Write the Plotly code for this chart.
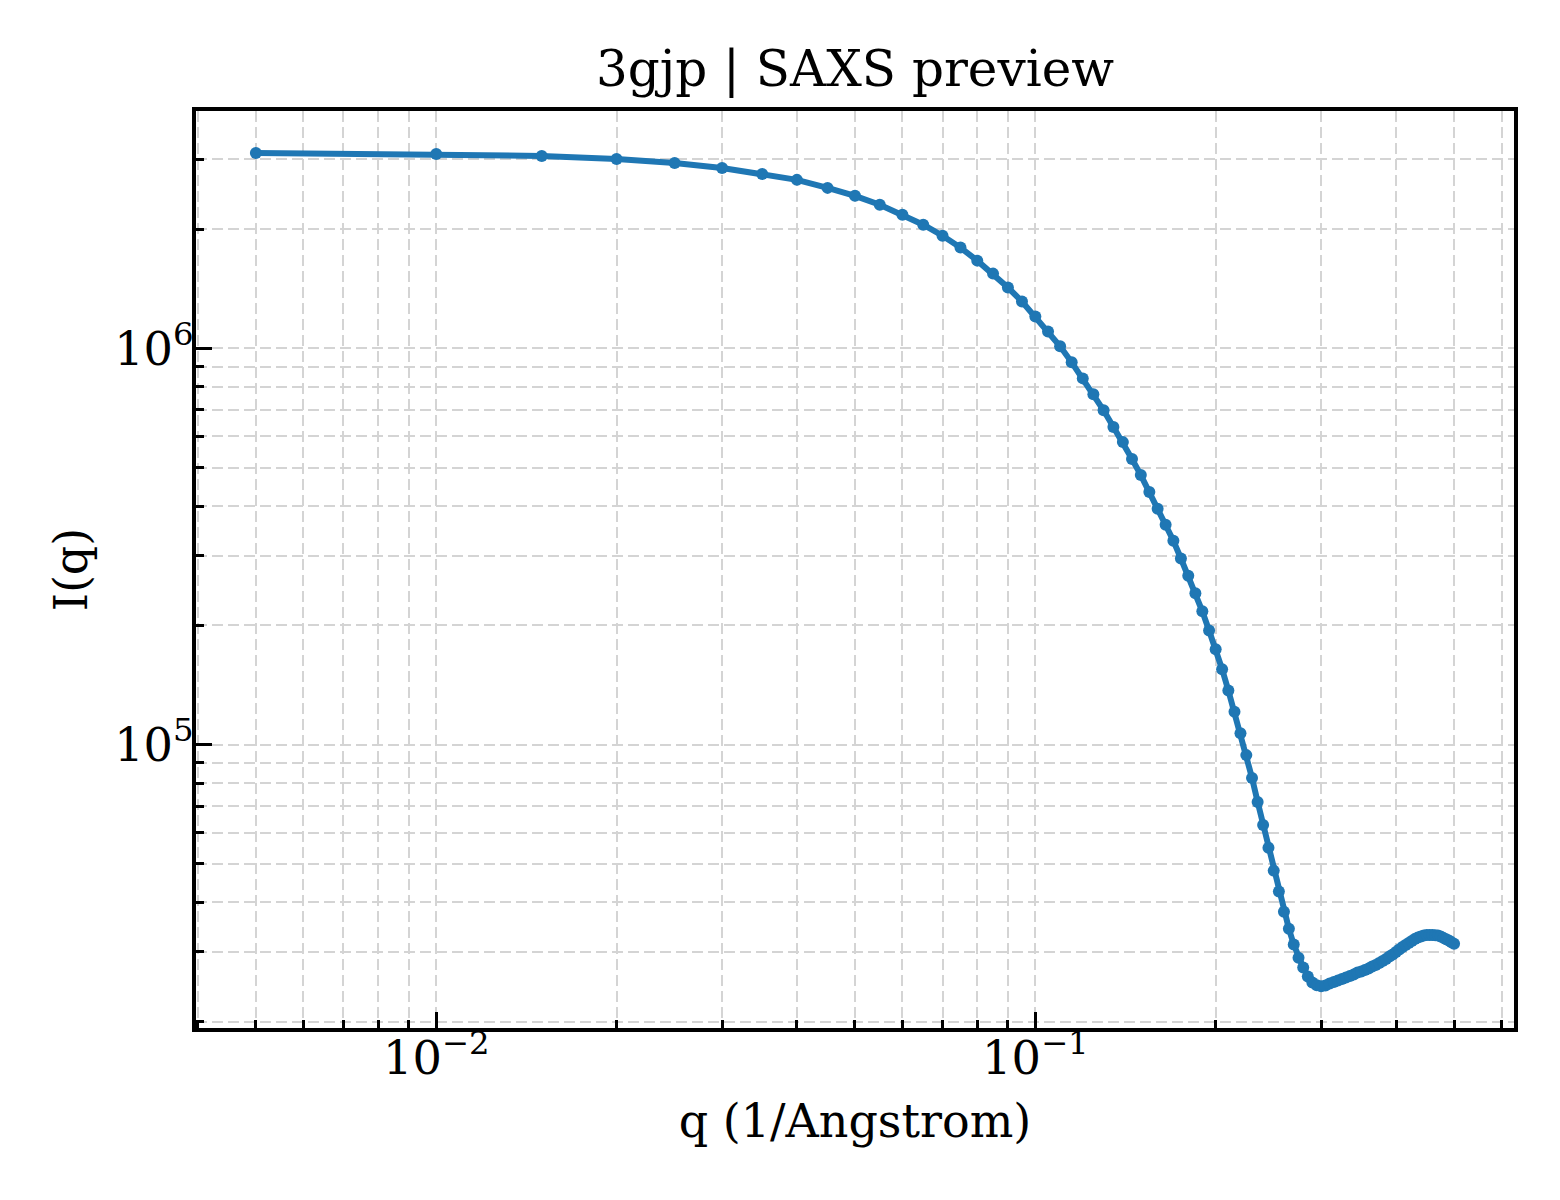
import plotly.graph_objects as go

# q (1/Angstrom) 값
q_values = [
    0.005, 0.010, 0.015, 0.020, 0.025, 0.030, 0.035, 0.040, 0.045, 0.050,
    0.055, 0.060, 0.065, 0.070, 0.075, 0.080, 0.085, 0.090, 0.095, 0.100,
    0.105, 0.110, 0.115, 0.120, 0.125, 0.130, 0.135, 0.140, 0.145, 0.150,
    0.155, 0.160, 0.165, 0.170, 0.175, 0.180, 0.185, 0.190, 0.195, 0.200,
    0.205, 0.210, 0.215, 0.220, 0.225, 0.230, 0.235, 0.240, 0.245, 0.250,
    0.255, 0.260, 0.265, 0.270, 0.275, 0.280, 0.285, 0.290, 0.295, 0.300,
    0.305, 0.310, 0.315, 0.320, 0.325, 0.330, 0.335, 0.340, 0.345, 0.350,
    0.355, 0.360, 0.365, 0.370, 0.375, 0.380, 0.385, 0.390, 0.395, 0.400,
    0.405, 0.410, 0.415, 0.420, 0.425, 0.430, 0.435, 0.440, 0.445, 0.450,
    0.455, 0.460, 0.465, 0.470, 0.475, 0.480, 0.485, 0.490, 0.495, 0.500,
]

# I(q) 값
intensity = [
    3.112e6, 3.095e6, 3.059e6, 3.006e6, 2.937e6, 2.853e6, 2.756e6, 2.662e6, 2.541e6, 2.426e6,
    2.303e6, 2.174e6, 2.051e6, 1.924e6, 1.796e6, 1.665e6, 1.544e6, 1.424e6, 1.313e6, 1.204e6,
    1.103e6, 1.012e6, 9.22e5, 8.40e5, 7.66e5, 6.98e5, 6.33e5, 5.80e5, 5.26e5, 4.79e5,
    4.34e5, 3.94e5, 3.59e5, 3.27e5, 2.95e5, 2.67e5, 2.41e5, 2.17e5, 1.94e5, 1.74e5,
    1.55e5, 1.37e5, 1.21e5, 1.069e5, 9.41e4, 8.24e4, 7.17e4, 6.27e4, 5.49e4, 4.81e4,
    4.26e4, 3.79e4, 3.43e4, 3.13e4, 2.90e4, 2.74e4, 2.60e4, 2.51e4, 2.47e4, 2.455e4,
    2.469e4, 2.497e4, 2.519e4, 2.541e4, 2.563e4, 2.586e4, 2.608e4, 2.631e4, 2.662e4, 2.677e4,
    2.701e4, 2.724e4, 2.756e4, 2.780e4, 2.813e4, 2.846e4, 2.879e4, 2.921e4, 2.955e4, 2.998e4,
    3.041e4, 3.086e4, 3.122e4, 3.158e4, 3.195e4, 3.232e4, 3.260e4, 3.279e4, 3.298e4, 3.308e4,
    3.311e4, 3.311e4, 3.305e4, 3.298e4, 3.279e4, 3.254e4, 3.228e4, 3.204e4, 3.172e4, 3.143e4,
]

title_text = "3gjp | SAXS preview"
x_label = "q (1/Angstrom)"
y_label = "I(q)"

FONT = "DejaVu Serif"
GRID = "#d4d4d4"

fig = go.Figure(go.Scatter(
    x=q_values,
    y=intensity,
    mode="lines+markers",
    line={"color": "#1f77b4", "width": 6},
    marker={"color": "#1f77b4", "size": 12},
    showlegend=False,
))

axis_common = dict(
    type="log",
    dtick=1,
    exponentformat="power",
    showline=True,
    linecolor="black",
    linewidth=4,
    mirror=True,
    ticks="inside",
    ticklen=16,
    tickwidth=3.3,
    tickcolor="black",
    showgrid=True,
    gridcolor=GRID,
    gridwidth=1.8,
    griddash="11px,5px",
    zeroline=False,
    tickfont={"family": FONT, "size": 37, "color": "black"},
    minor=dict(
        dtick="D1",
        ticks="inside",
        ticklen=8,
        tickwidth=2.5,
        tickcolor="black",
        showgrid=True,
        gridcolor=GRID,
        gridwidth=1.8,
        griddash="11px,5px",
    ),
)

# 브라우저 기본 여백을 감안해 위치 조정
fig.update_layout(
    width=1560,
    height=1200,
    margin=dict(l=188, r=54, t=103, b=180),
    plot_bgcolor="white",
    paper_bgcolor="white",
    title=dict(
        text=title_text,
        x=0.5,
        xref="paper",
        xanchor="center",
        y=1 - 60 / 1200,
        yref="container",
        yanchor="middle",
        font={"family": FONT, "size": 50, "color": "black"},
    ),
    xaxis=dict(
        axis_common,
        range=[-2.401, -0.201],
        title=dict(text=x_label, font={"family": FONT, "size": 46, "color": "black"}, standoff=22),
        ticklabelstandoff=-12,
    ),
    yaxis=dict(
        axis_common,
        range=[4.285, 6.599],
        title=dict(text=y_label, font={"family": FONT, "size": 46, "color": "black"}, standoff=13),
        ticklabelstandoff=-9,
    ),
)

fig.write_html("out.html")
